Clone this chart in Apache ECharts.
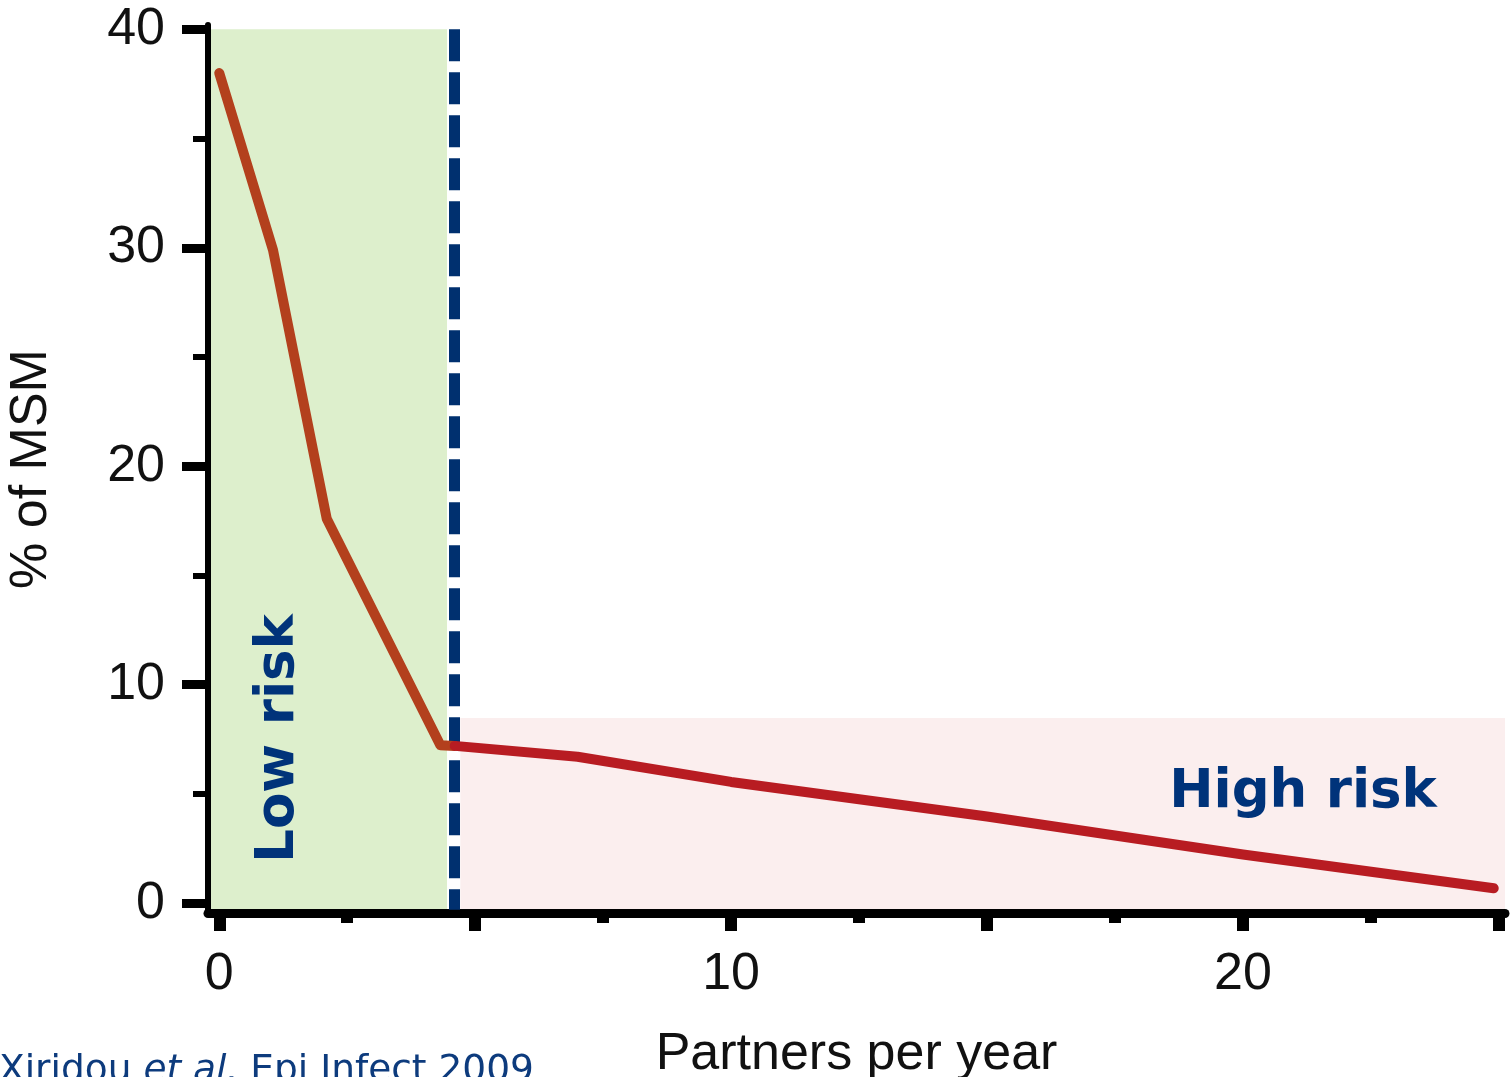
<!DOCTYPE html>
<html>
<head>
<meta charset="utf-8">
<script src="https://cdn.jsdelivr.net/npm/echarts@6/dist/echarts.min.js"></script>
<style>
html,body{margin:0;padding:0;background:#fff;}
#chart{width:1512px;height:1077px;}
</style>
</head>
<body>
<div id="chart"></div>
<script>
// ---- data ----
const lowX = [0, 1.05, 2.1, 4.32, 4.6];
const lowY = [38, 29.9, 17.6, 7.23, 7.2];
const highX = [4.6, 7, 10, 15, 20, 24.9];
const highY = [7.2, 6.7, 5.55, 3.97, 2.23, 0.68];
const cutoffX = 4.6;
const cutoffYRange = [40, -0.3];
const lowBand = [-0.22, 4.45, -0.45, 40];   // x0, x1, y0, y1
const highBand = [4.71, 25.12, -0.45, 8.48];
const xRange = [-0.22, 25.12];
const yRange = [-0.45, 40.2];
const xMajorTicks = [0, 5, 10, 15, 20, 25];
const xMinorTicks = [2.5, 7.5, 12.5, 17.5, 22.5];
const xTickLabels = [0, 10, 20];
const yMajorTicks = [0, 10, 20, 30, 40];
const yMinorTicks = [5, 15, 25, 35];
const xTitle = 'Partners per year';
const yTitle = '% of MSM';
const lowLabel = 'Low risk';
const highLabel = 'High risk';

const zip = (xs, ys) => xs.map((x, i) => [x, ys[i]]);
const navy = '#00337a';
const axisFont = "'Liberation Sans', Arial, sans-serif";
const textFont = "'DejaVu Sans', Verdana, sans-serif";

const chart = echarts.init(document.getElementById('chart'));
chart.setOption({
  animation: false,
  backgroundColor: '#ffffff',
  grid: { left: 208, right: 7, top: 25, bottom: 164, containLabel: false, outerBoundsMode: 'none' },
  xAxis: [{
    type: 'value', min: xRange[0], max: xRange[1], z: 4,
    axisLine: { show: true, onZero: false, lineStyle: { color: '#000', width: 9 } },
    axisTick: { show: true, customValues: xMajorTicks, length: 18, lineStyle: { color: '#000', width: 12 } },
    axisLabel: { show: true, customValues: xTickLabels, margin: 36, color: '#111',
      fontSize: 52, fontFamily: axisFont },
    splitLine: { show: false },
    name: xTitle, nameLocation: 'middle', nameGap: 116,
    nameTextStyle: { fontSize: 52, color: '#111', fontFamily: axisFont }
  }, {
    type: 'value', min: xRange[0], max: xRange[1], position: 'bottom', offset: 0, z: 4,
    axisLine: { show: false, onZero: false },
    axisTick: { show: true, customValues: xMinorTicks, length: 10, lineStyle: { color: '#000', width: 12 } },
    axisLabel: { show: false },
    splitLine: { show: false }
  }],
  yAxis: [{
    type: 'value', min: yRange[0], max: yRange[1], z: 4,
    axisLine: { show: true, onZero: false, lineStyle: { color: '#000', width: 6 } },
    axisTick: { show: true, customValues: yMajorTicks, length: 26, lineStyle: { color: '#000', width: 9 } },
    axisLabel: { show: true, customValues: yMajorTicks, margin: 43, color: '#111',
      fontSize: 52, fontFamily: axisFont },
    splitLine: { show: false },
    name: yTitle, nameLocation: 'middle', nameGap: 150,
    nameTextStyle: { fontSize: 52, color: '#111', fontFamily: axisFont }
  }, {
    type: 'value', min: yRange[0], max: yRange[1], position: 'left', offset: 0, z: 4,
    axisLine: { show: false, onZero: false },
    axisTick: { show: true, customValues: yMinorTicks, length: 15, lineStyle: { color: '#000', width: 6 } },
    axisLabel: { show: false },
    splitLine: { show: false }
  }],
  series: [{
    type: 'line',
    name: 'Low risk',
    xAxisIndex: 0, yAxisIndex: 0,
    data: zip(lowX, lowY),
    showSymbol: false,
    lineStyle: { color: '#b3401d', width: 10, cap: 'round', join: 'round' },
    z: 5,
    markArea: {
      silent: true,
      data: [
        [{ coord: [lowBand[0], lowBand[3]], itemStyle: { color: '#ddefcc' } }, { coord: [lowBand[1], lowBand[2]] }],
        [{ coord: [highBand[0], highBand[3]], itemStyle: { color: '#fbeeee' } }, { coord: [highBand[1], highBand[2]] }]
      ],
      itemStyle: { opacity: 1 },
      z: 1
    }
  }, {
    type: 'line',
    name: 'High risk',
    xAxisIndex: 0, yAxisIndex: 0,
    data: zip(highX, highY),
    showSymbol: false,
    lineStyle: { color: '#b81c22', width: 10, cap: 'round', join: 'round' },
    z: 5,
    markLine: {
      silent: true,
      symbol: ['none', 'none'],
      label: { show: false },
      lineStyle: { color: '#00306f', width: 11, type: [32, 11] },
      data: [[{ coord: [cutoffX, cutoffYRange[0]] }, { coord: [cutoffX, cutoffYRange[1]] }]]
    }
  }],
  graphic: [{
    type: 'text', x: 279, y: 738.5, rotation: Math.PI / 2, z: 10,
    style: { text: lowLabel, fill: navy, font: "bold 53px " + textFont, align: 'center', verticalAlign: 'middle' }
  }, {
    type: 'text', x: 1303, y: 793, z: 10,
    style: { text: highLabel, fill: navy, font: "bold 53px " + textFont, align: 'center', verticalAlign: 'middle' }
  }, {
    type: 'text', x: -1, y: 1071, z: 10,
    style: {
      text: '{n|Xiridou }{i|et al.}{n| Epi Infect 2009}',
      verticalAlign: 'middle', align: 'left',
      rich: {
        n: { fill: '#0d3b7d', fontSize: 37.5, fontFamily: textFont },
        i: { fill: '#0d3b7d', fontSize: 37.5, fontFamily: textFont, fontStyle: 'italic' }
      }
    }
  }]
});
</script>
</body>
</html>
